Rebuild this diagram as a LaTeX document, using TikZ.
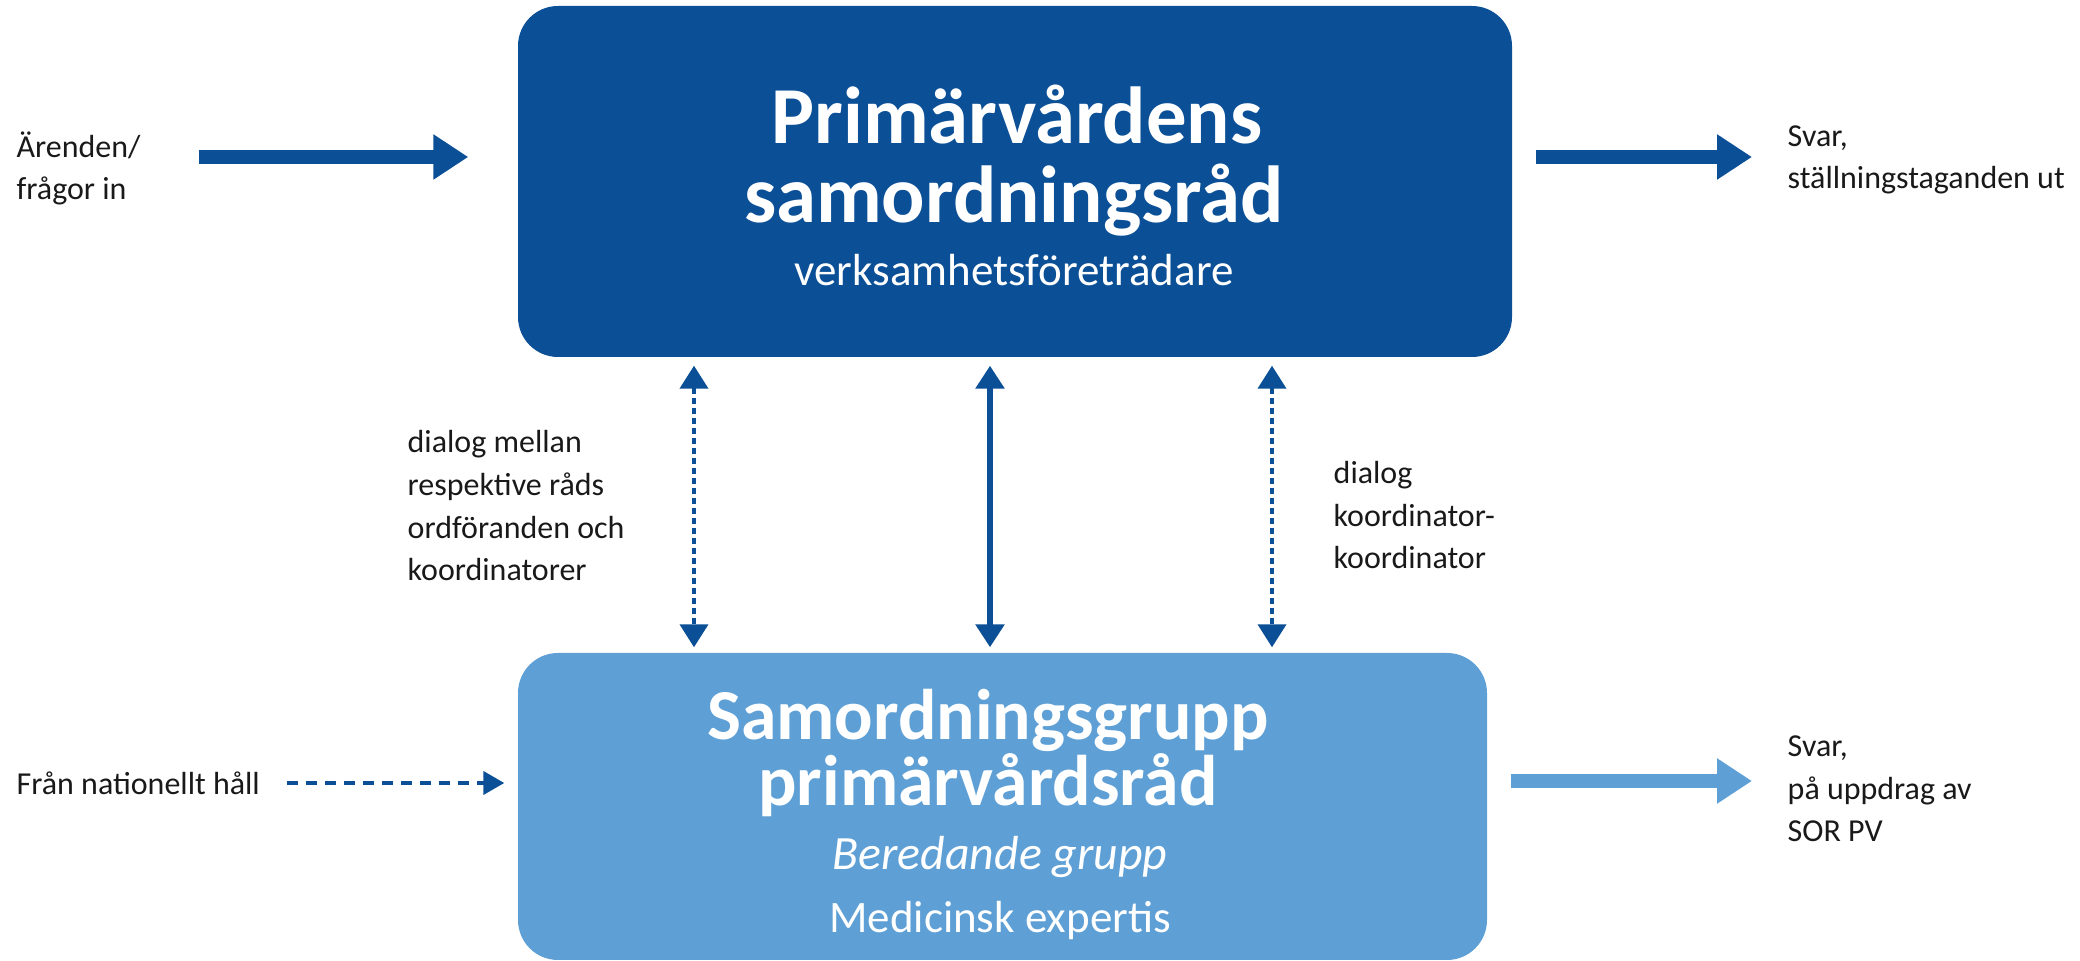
\documentclass[tikz,border=0pt]{standalone}
\usepackage{fontspec}
\setmainfont{Carlito}
\usetikzlibrary{arrows.meta}
\definecolor{dkblue}{RGB}{11,79,150}
\definecolor{ltblue}{RGB}{94,160,213}
\definecolor{ink}{RGB}{25,25,25}
\tikzset{dk/.style={rectangle, rounded corners=4mm, fill=dkblue, minimum width=9.94cm, minimum height=3.51cm},
        lt/.style={rectangle, rounded corners=4mm, fill=ltblue, minimum width=9.69cm, minimum height=3.07cm},
        tt/.style={text=white, font=\bfseries\fontsize{23}{23}\selectfont, anchor=base, inner sep=0pt},
        st/.style={text=white, font=\fontsize{12.8}{15}\selectfont, anchor=base, inner sep=0pt},
        lb/.style={text=ink, font=\fontsize{9.1}{12.2}\selectfont, align=left, anchor=base west, inner sep=0pt},
        fa/.style={line width=1.4mm, -{Triangle[length=3.5mm,width=4.3mm]}},
        va/.style={dkblue, line width=0.6mm, {Triangle[length=2.3mm,width=2.8mm]}-{Triangle[length=2.3mm,width=2.8mm]}, shorten <=0.08cm, shorten >=0.05cm},
        vd/.style={va, line width=0.4mm, dash pattern=on 0.6mm off 0.4mm},
        ha/.style={dkblue, line width=0.4mm, dash pattern=on 1.1mm off 0.8mm, -{Triangle[length=2.1mm,width=2.3mm]}}}

\begin{document}
\begin{tikzpicture}
    \useasboundingbox (0,0) rectangle (20.8,9.61);

    % the two boxes
    \node (sor) at (10.15,7.795) [dk] {};
    \node (sg) at (10.025,1.545) [lt] {};

    \node (sor1) at (10.17,8.17) [tt] {Primärvårdens};
    \node (sor2) at (10.14,7.38) [tt] {samordningsråd};
    \node (sor3) at (10.14,6.75) [st] {verksamhetsföreträdare};

    \node (sg1) at (9.88,2.21) [tt, font=\bfseries\fontsize{20.4}{20}\selectfont] {Samordningsgrupp};
    \node (sg2) at (9.88,1.55) [tt, font=\bfseries\fontsize{20.4}{20}\selectfont] {primärvårdsråd};
    \node (sg3) at (10.0,0.91) [st, font=\itshape\fontsize{13.6}{15}\selectfont] {Beredande grupp};
    \node (sg4) at (10.0,0.28) [st] {Medicinsk expertis};

    % texts outside
    \node (in) at (0.16,7.61) [lb] {Ärenden/\\frågor in};
    \node (ut) at (17.87,7.72) [lb] {Svar,\\ställningstaganden ut};
    \node (nat) at (0.16,1.66) [lb] {Från nationellt håll};
    \node (svar) at (17.87,1.19) [lb] {Svar,\\på uppdrag av\\SOR PV};
    \node (ordf) at (4.07,3.80) [lb] {dialog mellan\\respektive råds\\ordföranden och\\koordinatorer};
    \node (koord) at (13.33,3.92) [lb] {dialog\\koordinator-\\koordinator};

    % arrows in and out
    \coordinate (ina) at (1.99,8.04);
    \coordinate (uta) at (17.52,8.04);
    \coordinate (nata) at (2.87,1.78);
    \coordinate (svara) at (17.52,1.80);
    \draw[fa, dkblue, shorten >=0.49cm] (ina) -- (ina -| sor.west);
    \draw[fa, dkblue, shorten <=0.23cm] (uta -| sor.east) -- (uta);
    \draw[ha, shorten >=0.13cm] (nata) -- (nata -| sg.west);
    \draw[fa, ltblue, shorten <=0.23cm] (svara -| sg.east) -- (svara);

    % arrows between the boxes
    \draw[vd] ([xshift=-3.21cm]sor.south) -- ([xshift=-3.21cm]sor.south |- sg.north);
    \draw[va] ([xshift=-0.25cm]sor.south) -- ([xshift=-0.25cm]sor.south |- sg.north);
    \draw[vd] ([xshift=2.57cm]sor.south) -- ([xshift=2.57cm]sor.south |- sg.north);
\end{tikzpicture}
\end{document}
